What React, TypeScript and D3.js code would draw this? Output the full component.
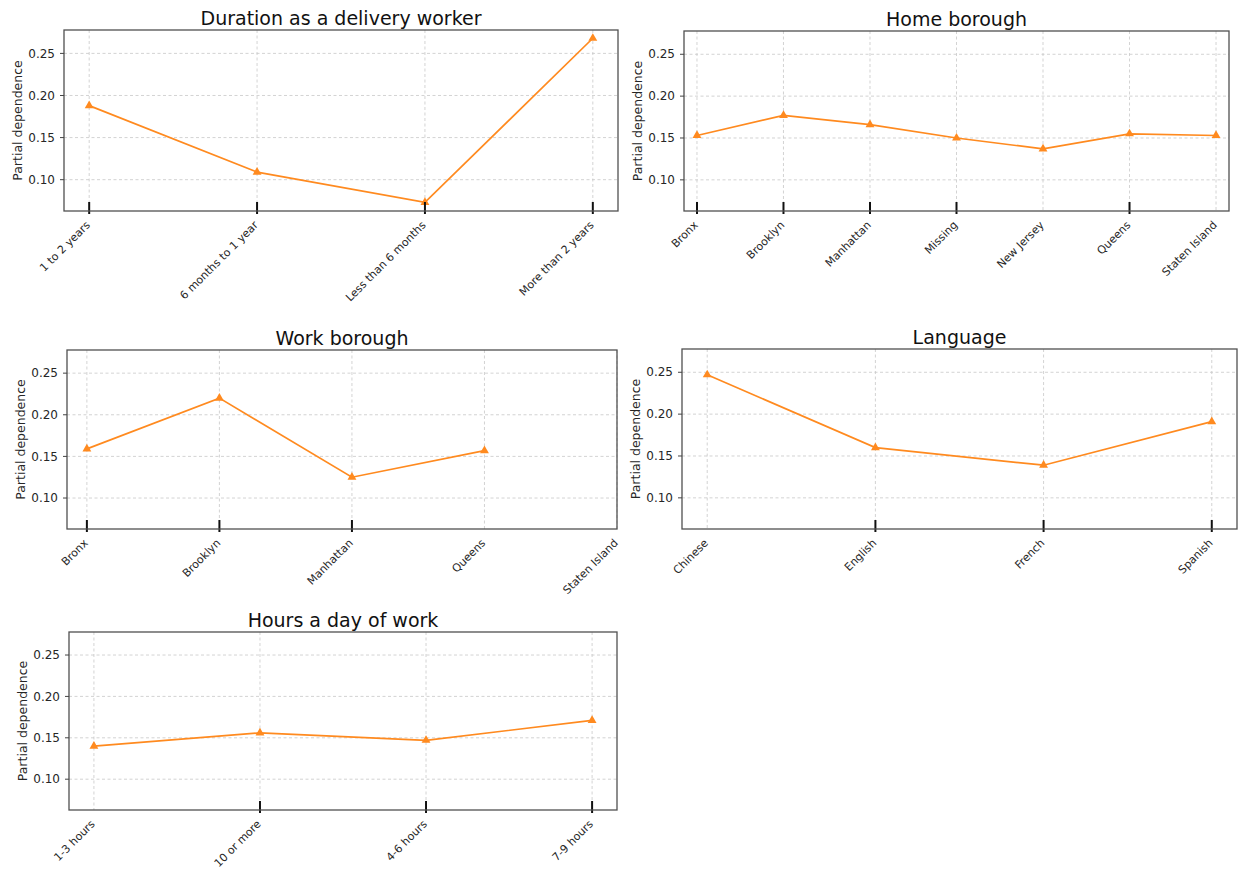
import React from "react";
import * as d3 from "d3";

// ---------- data ----------
const durationCats = ["1 to 2 years", "6 months to 1 year", "Less than 6 months", "More than 2 years"];
const durationVals = [0.188, 0.109, 0.073, 0.268];
const durationRug = ["1 to 2 years", "6 months to 1 year", "Less than 6 months", "More than 2 years"];

const homeCats = ["Bronx", "Brooklyn", "Manhattan", "Missing", "New Jersey", "Queens", "Staten Island"];
const homeVals = [0.153, 0.177, 0.166, 0.150, 0.137, 0.155, 0.153];
const homeRug = ["Bronx", "Brooklyn", "Manhattan", "Missing", "Queens"];

const workCats = ["Bronx", "Brooklyn", "Manhattan", "Queens", "Staten Island"];
const workVals = [0.159, 0.220, 0.125, 0.157];
const workRug = ["Bronx", "Brooklyn", "Manhattan"];

const langCats = ["Chinese", "English", "French", "Spanish"];
const langVals = [0.247, 0.160, 0.139, 0.191];
const langRug = ["English", "French", "Spanish"];

const hoursCats = ["1-3 hours", "10 or more", "4-6 hours", "7-9 hours"];
const hoursVals = [0.140, 0.156, 0.147, 0.171];
const hoursRug = ["10 or more", "4-6 hours", "7-9 hours"];

const yTicks = [0.10, 0.15, 0.20, 0.25];
const yDomain = [0.0628, 0.2778];
const yLabel = "Partial dependence";

const FONT = "DejaVu Sans, sans-serif";
const ORANGE = "#ff8a1f";
const TEXT = "#262626";

type PanelProps = {
  left: number; top: number; right: number; bottom: number;
  title: string; cats: string[]; vals: number[]; rug: string[];
  xMax?: number;
};

function Panel({ left, top, right, bottom, title, cats, vals, rug, xMax }: PanelProps) {
  const n = vals.length;
  const x = d3.scaleLinear().domain([-0.15, xMax ?? (n - 1 + 0.15)]).range([left, right]);
  const y = d3.scaleLinear().domain(yDomain).range([bottom, top]);
  const line = d3.line<number>().x((_, i) => x(i)).y((v) => y(v));
  const tri = d3.symbol().type(d3.symbolTriangle).size(34)();
  return (
    <g>
      {/* grid */}
      {yTicks.map((t) => (
        <line key={"gy" + t} x1={left} x2={right} y1={y(t)} y2={y(t)}
          stroke="#c8c8c8" strokeWidth={0.8} strokeDasharray="3,2.5" />
      ))}
      {cats.map((c, i) => (
        <line key={"gx" + c} x1={x(i)} x2={x(i)} y1={top} y2={bottom}
          stroke="#c8c8c8" strokeWidth={0.8} strokeDasharray="3,2.5" />
      ))}
      {/* line */}
      <path d={line(vals) || ""} fill="none" stroke={ORANGE} strokeWidth={1.7} />
      {vals.map((v, i) => (
        <path key={"m" + i} d={tri || ""} transform={`translate(${x(i)},${y(v)})`} fill={ORANGE} />
      ))}
      {/* rug deciles */}
      {rug.map((r) => {
        const i = cats.indexOf(r);
        return (
          <line key={"r" + r} x1={x(i)} x2={x(i)} y1={bottom - 9} y2={bottom + 3}
            stroke="#111" strokeWidth={2} />
        );
      })}
      {/* frame */}
      <rect x={left} y={top} width={right - left} height={bottom - top}
        fill="none" stroke="#505050" strokeWidth={1.3} />
      {/* y ticks */}
      {yTicks.map((t) => (
        <g key={"yt" + t}>
          <line x1={left - 4} x2={left} y1={y(t)} y2={y(t)} stroke="#444" strokeWidth={1} />
          <text x={left - 9} y={y(t)} dy="0.35em" textAnchor="end" fontSize={12}
            fontFamily={FONT} fill={TEXT}>{t.toFixed(2)}</text>
        </g>
      ))}
      {/* x tick labels */}
      {cats.map((c, i) => (
        <text key={"xt" + c} transform={`translate(${x(i) - 3},${bottom + 10}) rotate(-45)`}
          textAnchor="end" dy="0.6em" fontSize={11} fontFamily={FONT} fill={TEXT}>{c}</text>
      ))}
      {/* title */}
      <text x={(left + right) / 2} y={top - 5} textAnchor="middle" fontSize={19}
        fontFamily={FONT} fill="#111">{title}</text>
      {/* y label */}
      <text transform={`translate(${left - 42},${(top + bottom) / 2}) rotate(-90)`}
        textAnchor="middle" fontSize={12.5} fontFamily={FONT} fill={TEXT}>{yLabel}</text>
    </g>
  );
}

export default function App() {
  return (
    <svg width={1238} height={869} style={{ position: "absolute", left: 0, top: 0, background: "#fff" }}>
      <Panel left={64} top={30} right={618} bottom={211} title="Duration as a delivery worker"
        cats={durationCats} vals={durationVals} rug={durationRug} />
      <Panel left={684} top={31} right={1229} bottom={211} title="Home borough"
        cats={homeCats} vals={homeVals} rug={homeRug} />
      <Panel left={67} top={350} right={617} bottom={529} title="Work borough"
        cats={workCats} vals={workVals} rug={workRug} xMax={4} />
      <Panel left={682} top={349} right={1237} bottom={529} title="Language"
        cats={langCats} vals={langVals} rug={langRug} />
      <Panel left={69} top={632} right={617} bottom={810} title="Hours a day of work"
        cats={hoursCats} vals={hoursVals} rug={hoursRug} />
    </svg>
  );
}
